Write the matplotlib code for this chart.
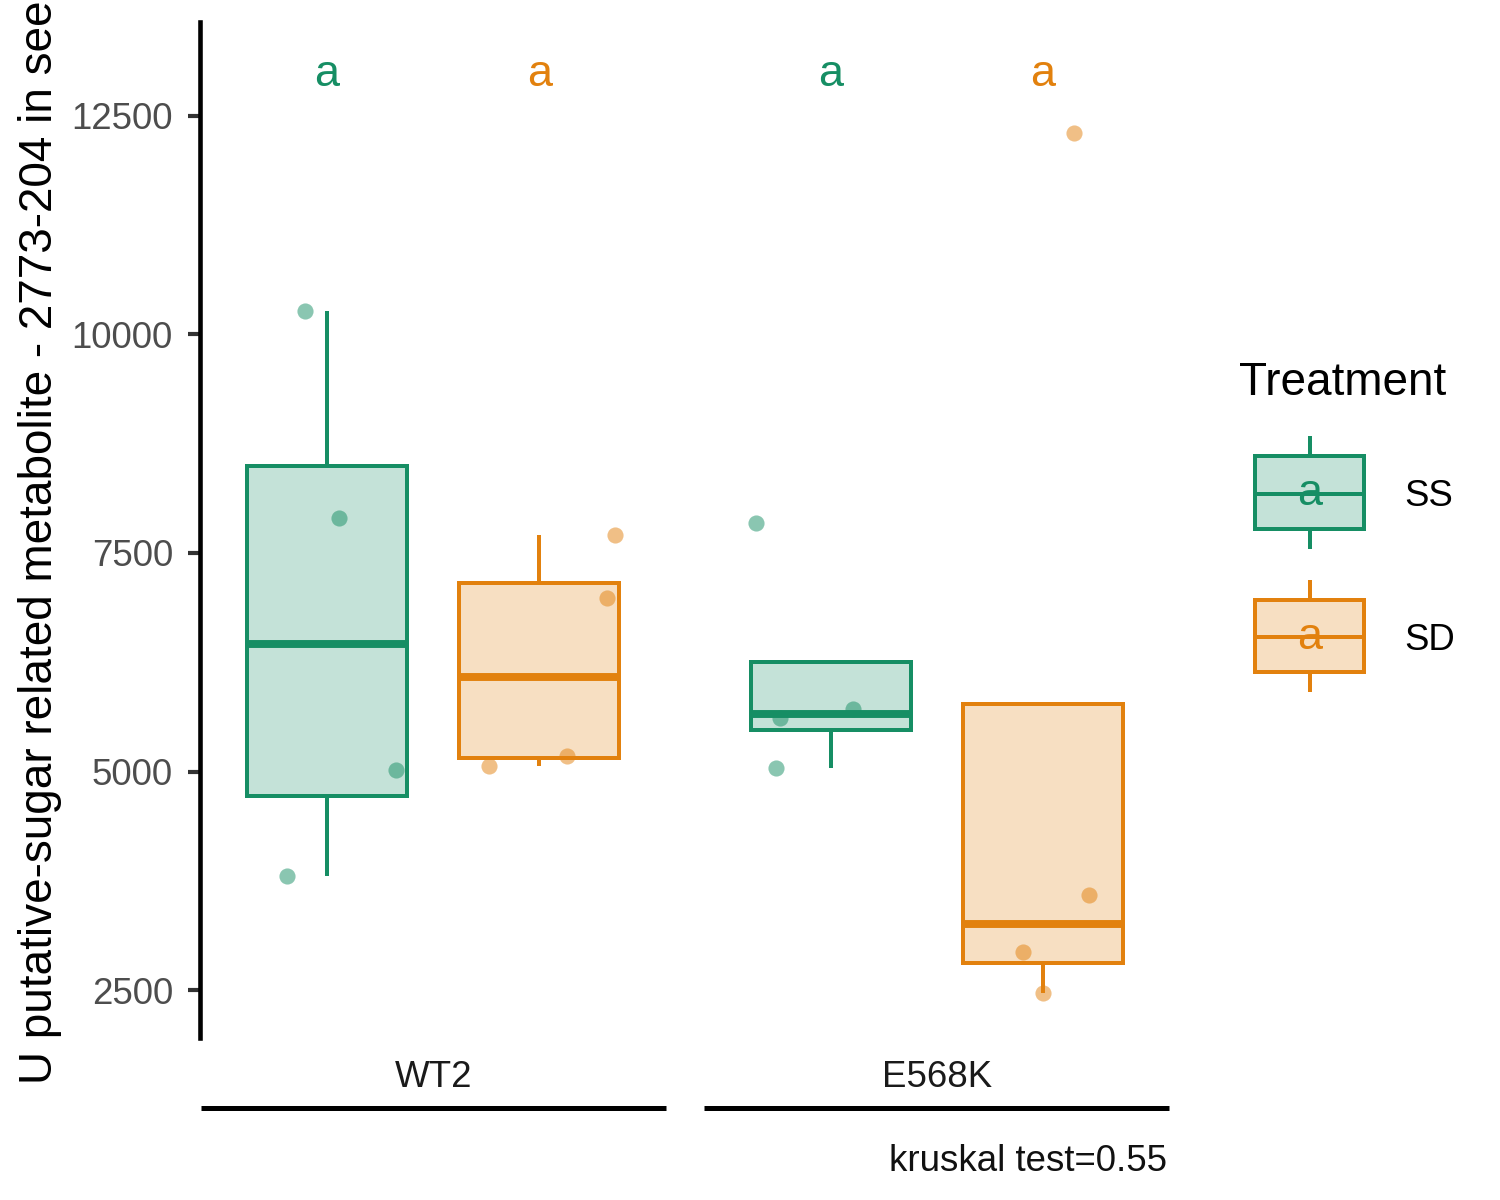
import numpy as np
import matplotlib
matplotlib.use("Agg")
import matplotlib.pyplot as plt
import matplotlib.patches as mpatches
import matplotlib.transforms as mtransforms
from matplotlib.legend_handler import HandlerBase

plt.rcParams['font.family'] = ['Liberation Sans', 'DejaVu Sans']

# data
genotypes = ['WT2', 'E568K']
treatments = ['SS', 'SD']
colors = {'SS': '#168E64', 'SD': '#E2810E'}
letters = {'WT2': ['a', 'a'], 'E568K': ['a', 'a']}

wt2_ss = [10267, 7902, 5022, 3802]
wt2_sd = [7703, 6980, 5181, 5068]
e568k_ss = [7845, 5612, 5715, 5044]
e568k_sd = [3589, 2930, 2468, 12304]

# horizontal jitter of each point (x units), same order as the values
jit_wt2_ss = [-0.043, 0.024, 0.138, -0.079]
jit_wt2_sd = [0.150, 0.134, 0.054, -0.101]
jit_e568k_ss = [-0.148, -0.100, 0.044, -0.109]
jit_e568k_sd = [0.091, -0.040, -0.001, 0.062]

values = {('WT2', 'SS'): wt2_ss, ('WT2', 'SD'): wt2_sd,
          ('E568K', 'SS'): e568k_ss, ('E568K', 'SD'): e568k_sd}
jitter = {('WT2', 'SS'): jit_wt2_ss, ('WT2', 'SD'): jit_wt2_sd,
          ('E568K', 'SS'): jit_e568k_ss, ('E568K', 'SD'): jit_e568k_sd}

letter_y = 12840
ylabel = 'U putative-sugar related metabolite - 2773-204 in seed'
caption = 'kruskal test=0.55'

dodge = 0.211
box_w = 0.3177

fig = plt.figure(figsize=(5, 4), dpi=300)
ax = fig.add_axes([200 / 1500, 1 - 1038 / 1200, 970 / 1500, 1016 / 1200])

for gi, g in enumerate(genotypes):
    for ti, t in enumerate(treatments):
        pos = gi + 1 + (ti * 2 - 1) * dodge
        c = colors[t]
        v = np.array(values[(g, t)])
        ax.scatter(pos + np.array(jitter[(g, t)]), v, s=15, color=c, alpha=0.5,
                   linewidths=0, zorder=2)
        ax.boxplot([v], positions=[pos], widths=box_w, patch_artist=True,
                   showfliers=False, showcaps=False, whis=1.5, manage_ticks=False,
                   boxprops=dict(facecolor=matplotlib.colors.to_rgba(c, 0.25),
                                 edgecolor=c, linewidth=0.96),
                   whiskerprops=dict(color=c, linewidth=0.96, solid_capstyle='butt'),
                   medianprops=dict(color=c, linewidth=1.9, solid_capstyle='butt'),
                   zorder=3)
        ax.text(pos, letter_y, letters[g][ti], color=c, fontsize=10.8,
                ha='center', va='baseline', zorder=4)

ax.set_xlim(0.537, 2.463)
ax.set_ylim(1951, 13575)
ax.set_yticks([2500, 5000, 7500, 10000, 12500])
ax.set_xticks([1, 2], genotypes)
ax.tick_params(axis='y', labelsize=8.8, labelcolor='#4D4D4D', color='#333333',
               length=2.9, width=1.0, pad=3.6)
ax.tick_params(axis='x', labelsize=8.8, labelcolor='#1A1A1A', length=0, pad=5.3)
for s in ['top', 'right', 'bottom']:
    ax.spines[s].set_visible(False)
ax.spines['left'].set_linewidth(1.1)
ax.spines['left'].set_color('black')

# group lines under the x labels
trans = mtransforms.blended_transform_factory(ax.transData, fig.transFigure)
for gi in range(len(genotypes)):
    ax.plot([gi + 1 - 0.462, gi + 1 + 0.462], [1 - 1108 / 1200] * 2, color='black',
            lw=1.2, transform=trans, clip_on=False, solid_capstyle='butt')

fig.text(40 / 1500, 1 - 530 / 1200, ylabel, rotation=90, fontsize=11,
         ha='center', va='center')
fig.text(1167 / 1500, 1 - 1171 / 1200, caption, fontsize=8.8, ha='right',
         va='baseline', color='#111111')


class BoxKey(HandlerBase):
    def create_artists(self, legend, orig_handle, xdescent, ydescent, width,
                       height, fontsize, trans):
        c = orig_handle.get_edgecolor()
        x0 = -xdescent + 0.13 * width
        w = width - 0.13 * width
        y0 = -ydescent + 1.08
        xm = x0 + w / 2
        b0, b1 = y0 + 0.18 * height, y0 + 0.82 * height
        med = y0 + 0.49 * height
        rect = mpatches.Rectangle((x0, b0), w, b1 - b0,
                                  facecolor=orig_handle.get_facecolor(),
                                  edgecolor=c, lw=0.96, transform=trans)
        arts = [rect]
        for ys in ([y0, b0], [b1, y0 + height], [med, med]):
            xs = [xm, xm] if ys[0] != ys[1] else [x0, x0 + w]
            arts.append(plt.Line2D(xs, ys, color=c, lw=0.96, transform=trans,
                                   solid_capstyle='butt'))
        arts.append(plt.Text(xm, med, 'a', color=c, fontsize=10.8, ha='center',
                             va='center', transform=trans))
        return arts


handles = [mpatches.Patch(facecolor=matplotlib.colors.to_rgba(colors[t], 0.25),
                          edgecolor=colors[t], label=t) for t in treatments]
leg = fig.legend(handles=handles, loc='upper left',
                 bbox_to_anchor=(1239 / 1500, 1 - 440.5 / 1200),
                 handler_map={mpatches.Patch: BoxKey()}, frameon=False,
                 fontsize=8.8, borderpad=0, borderaxespad=0,
                 handlelength=3.41, handleheight=4.36, handletextpad=1.09,
                 labelspacing=0.835)
fig.text(1239 / 1500, 1 - 395 / 1200, 'Treatment', fontsize=11, ha='left',
         va='baseline')

fig.savefig('out.png', dpi=300)
